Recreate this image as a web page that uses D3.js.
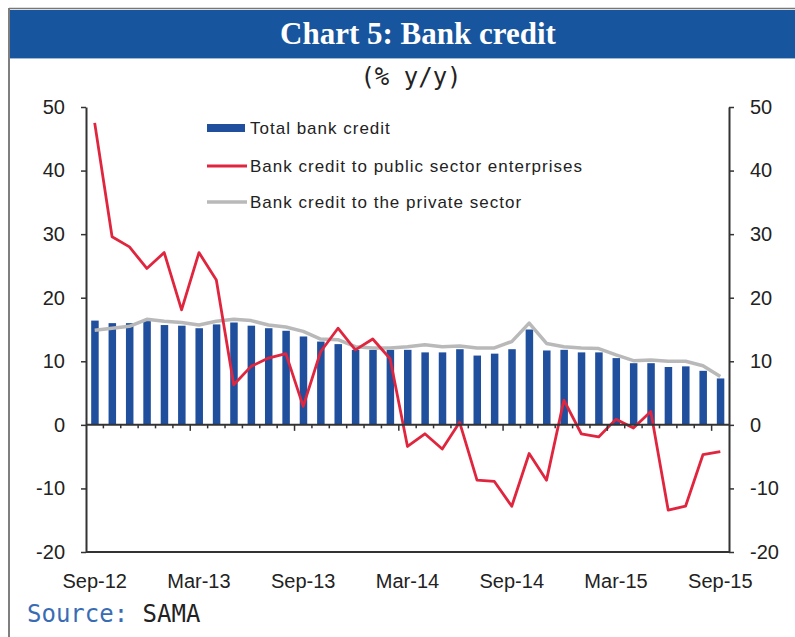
<!DOCTYPE html>
<html>
<head>
<meta charset="utf-8">
<script src="https://cdn.jsdelivr.net/npm/d3@7"></script>
<style>
  body { margin: 0; background: #fff; }
  svg { display: block; }
</style>
</head>
<body>
<script>
const WIDTH = 795;
const HEIGHT = 637;

// monthly, Sep-12 .. Sep-15
const months = ["Sep-12", "Oct-12", "Nov-12", "Dec-12", "Jan-13", "Feb-13", "Mar-13", "Apr-13", "May-13",
  "Jun-13", "Jul-13", "Aug-13", "Sep-13", "Oct-13", "Nov-13", "Dec-13", "Jan-14", "Feb-14", "Mar-14",
  "Apr-14", "May-14", "Jun-14", "Jul-14", "Aug-14", "Sep-14", "Oct-14", "Nov-14", "Dec-14", "Jan-15",
  "Feb-15", "Mar-15", "Apr-15", "May-15", "Jun-15", "Jul-15", "Aug-15", "Sep-15"];
const tickLabels = ["Sep-12", "Mar-13", "Sep-13", "Mar-14", "Sep-14", "Mar-15", "Sep-15"];
const yTicks = [50, 40, 30, 20, 10, 0, -10, -20];

const totalCredit = [16.4, 16.0, 16.0, 16.4, 15.7, 15.6, 15.2, 15.8, 16.1, 15.6, 15.2, 14.8, 13.9,
  13.1, 12.7, 11.8, 11.8, 11.8, 11.8, 11.4, 11.4, 11.9, 10.9, 11.2, 11.9, 15.0, 11.7, 11.8, 11.4,
  11.4, 10.5, 9.7, 9.7, 9.1, 9.2, 8.5, 7.3];
const publicCredit = [47.5, 29.6, 28.0, 24.6, 27.1, 18.1, 27.1, 22.8, 6.3, 9.2, 10.5, 11.2, 2.9,
  11.5, 15.2, 11.8, 13.5, 10.4, -3.4, -1.4, -3.8, 0.4, -8.7, -8.9, -12.8, -4.5, -8.7, 3.9, -1.4,
  -1.9, 0.9, -0.5, 2.1, -13.4, -12.8, -4.7, -4.2];
const privateCredit = [14.9, 15.2, 15.5, 16.6, 16.3, 16.1, 15.7, 16.3, 16.6, 16.4, 15.7, 15.4, 14.7,
  13.5, 13.4, 12.3, 12.1, 12.1, 12.3, 12.6, 12.3, 12.4, 12.1, 12.1, 13.1, 16.0, 12.8, 12.3, 12.1,
  12.0, 11.0, 10.1, 10.2, 10.0, 10.0, 9.3, 7.6];

const legendNames = ["Total bank credit", "Bank credit to public sector enterprises", "Bank credit to the private sector"];

const BLUE = "#1f4f9d";
const RED = "#e0253e";
const GREY = "#b9b9b9";
const AXIS = "#333";

var svg = d3.select("body").append("svg").attr("width", WIDTH).attr("height", HEIGHT);

// frame + title bar
svg.append("rect").attr("x", 0).attr("y", 0).attr("width", WIDTH).attr("height", HEIGHT).attr("fill", "#fff");
svg.append("line").attr("x1", 9).attr("x2", 9).attr("y1", 8).attr("y2", HEIGHT).attr("stroke", "#555").attr("stroke-width", 1.5);
svg.append("line").attr("x1", 9).attr("x2", WIDTH).attr("y1", 8.5).attr("y2", 8.5).attr("stroke", "#777").attr("stroke-width", 1.5);
svg.append("rect").attr("x", 10).attr("y", 10).attr("width", WIDTH - 10).attr("height", 48).attr("fill", "#17559e");
svg.append("line").attr("x1", 10).attr("x2", WIDTH).attr("y1", 58.5).attr("y2", 58.5).attr("stroke", "#9db8dc").attr("stroke-width", 1);

svg.append("text")
  .attr("x", 418).attr("y", 44)
  .attr("text-anchor", "middle")
  .attr("fill", "#fff")
  .style("font-family", "'Liberation Serif', serif")
  .style("font-weight", "bold")
  .style("font-size", "31px")
  .text("Chart 5: Bank credit");

svg.append("text")
  .attr("x", 411).attr("y", 85)
  .attr("text-anchor", "middle")
  .attr("fill", "#222")
  .style("font-family", "'DejaVu Sans Mono', monospace")
  .style("font-size", "24px")
  .text("(% y/y)");

// plot area
const PLOT_LEFT = 86, PLOT_RIGHT = 729, PLOT_TOP = 107, PLOT_BOTTOM = 552;

var x = d3.scaleBand().domain(months).range([PLOT_LEFT, PLOT_RIGHT]).paddingInner(0).paddingOuter(0);
var y = d3.scaleLinear().domain([-20, 50]).range([PLOT_BOTTOM, PLOT_TOP]);

var g = svg.append("g");

// bars
g.append("g").selectAll("rect")
  .data(totalCredit)
  .enter().append("rect")
  .attr("x", function(d, i) { return x(months[i]) + x.bandwidth() / 2 - 3.5; })
  .attr("width", 7.5)
  .attr("y", function(d) { return y(Math.max(0, d)); })
  .attr("height", function(d) { return Math.abs(y(d) - y(0)); })
  .attr("fill", BLUE);

var line = d3.line()
  .x(function(d, i) { return x(months[i]) + x.bandwidth() / 2; })
  .y(function(d) { return y(d); });

g.append("path").datum(privateCredit)
  .attr("d", line).attr("fill", "none")
  .attr("stroke", GREY).attr("stroke-width", 3.5).attr("stroke-linejoin", "round");

g.append("path").datum(publicCredit)
  .attr("d", line).attr("fill", "none")
  .attr("stroke", RED).attr("stroke-width", 2.8).attr("stroke-linejoin", "round");

// axes (plain hyphen for negatives, like the original)
var fmt = function(d) { return String(d); };
var yLeft = d3.axisLeft(y).tickValues(yTicks).tickFormat(fmt).tickSize(5).tickSizeOuter(0).tickPadding(16);
var yRight = d3.axisRight(y).tickValues(yTicks).tickFormat(fmt).tickSize(5).tickSizeOuter(0).tickPadding(16);

function styleAxis(sel) {
  sel.select(".domain").attr("stroke", AXIS).attr("stroke-width", 2);
  sel.selectAll(".tick line").attr("stroke", AXIS).attr("stroke-width", 1.5);
  sel.selectAll("text")
    .attr("fill", "#222")
    .style("font-family", "'Liberation Sans', Arial, sans-serif")
    .style("font-size", "20px");
}

svg.append("g").attr("transform", "translate(" + PLOT_LEFT + ",0)").call(yLeft).call(styleAxis);
svg.append("g").attr("transform", "translate(" + PLOT_RIGHT + ",0)").call(yRight).call(styleAxis);

// bottom frame line
svg.append("line").attr("x1", PLOT_LEFT).attr("x2", PLOT_RIGHT).attr("y1", PLOT_BOTTOM).attr("y2", PLOT_BOTTOM)
  .attr("stroke", AXIS).attr("stroke-width", 2);

// zero line with month ticks
svg.append("line").attr("x1", PLOT_LEFT).attr("x2", PLOT_RIGHT).attr("y1", y(0)).attr("y2", y(0))
  .attr("stroke", AXIS).attr("stroke-width", 2);
svg.append("g").selectAll("line")
  .data(months.slice(1))
  .enter().append("line")
  .attr("x1", function(d) { return x(d); })
  .attr("x2", function(d) { return x(d); })
  .attr("y1", y(0))
  .attr("y2", function(d, i) { return y(0) + ((i + 1) % 6 == 0 ? 6 : 3.5); })
  .attr("stroke", AXIS).attr("stroke-width", 1.5);

// x labels
svg.append("g").selectAll("text")
  .data(tickLabels)
  .enter().append("text")
  .attr("x", function(d) { return x(d) + x.bandwidth() / 2; })
  .attr("y", 588)
  .attr("text-anchor", "middle")
  .attr("fill", "#222")
  .style("font-family", "'Liberation Sans', Arial, sans-serif")
  .style("font-size", "20px")
  .text(function(d) { return d; });

// legend
var legend = svg.append("g").attr("transform", "translate(207,0)");
var rows = [128, 166, 202];
legend.append("rect").attr("x", 0).attr("y", rows[0] - 4).attr("width", 38).attr("height", 8).attr("fill", BLUE);
legend.append("line").attr("x1", 0).attr("x2", 40).attr("y1", rows[1]).attr("y2", rows[1]).attr("stroke", RED).attr("stroke-width", 2.8);
legend.append("line").attr("x1", 0).attr("x2", 40).attr("y1", rows[2]).attr("y2", rows[2]).attr("stroke", GREY).attr("stroke-width", 3.5);
legend.selectAll("text")
  .data(legendNames)
  .enter().append("text")
  .attr("x", 43)
  .attr("y", function(d, i) { return rows[i] + 6; })
  .attr("fill", "#222")
  .style("font-family", "'Liberation Sans', Arial, sans-serif")
  .style("font-size", "17px")
  .style("letter-spacing", "1px")
  .text(function(d) { return d; });

// source
var src = svg.append("text")
  .attr("x", 27).attr("y", 622)
  .style("font-family", "'DejaVu Sans Mono', monospace")
  .style("font-size", "24px");
src.append("tspan").attr("fill", "#3a6cb4").text("Source:");
src.append("tspan").attr("fill", "#222").text(" SAMA");
</script>
</body>
</html>
